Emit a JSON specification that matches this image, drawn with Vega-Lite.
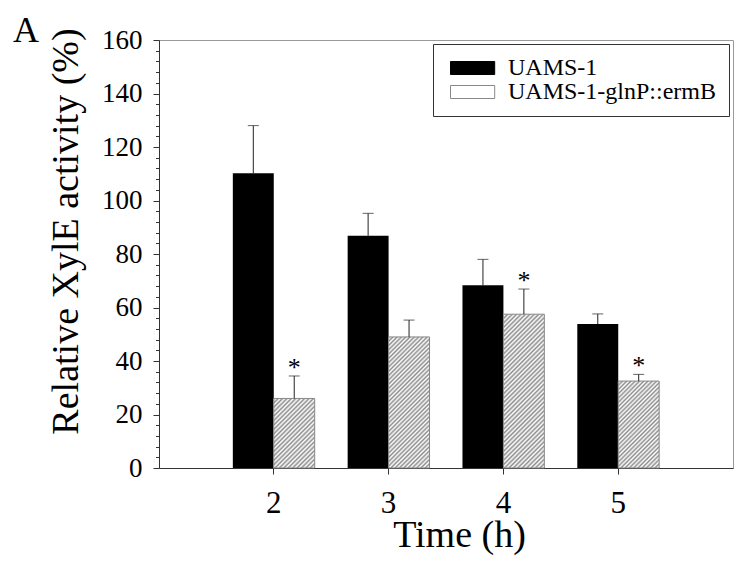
{
  "$schema": "https://vega.github.io/schema/vega-lite/v6.json",
  "width": 574,
  "height": 428,
  "autosize": "none",
  "padding": {"left": 159, "top": 40, "right": 3, "bottom": 94},
  "config": {
    "font": "Liberation Serif",
    "view": {"stroke": "#9a9a9a", "strokeWidth": 1},
    "axis": {"grid": false, "domainColor": "#333", "tickColor": "#333", "labelColor": "black", "titleColor": "black", "titleFontWeight": "normal", "labelFont": "Liberation Serif", "titleFont": "Liberation Serif"}
  },
  "title": {"text": "A", "anchor": "start", "frame": "group", "fontSize": 36, "fontWeight": "normal", "font": "Liberation Serif", "color": "black", "dx": -146, "dy": 52, "baseline": "alphabetic", "offset": 0},
  "data": {
    "values": [
      {"time": 2, "strain": "UAMS-1", "activity": 110.2, "upper": 128.0, "sig": ""},
      {"time": 2, "strain": "UAMS-1-glnP::ermB", "activity": 26.0, "upper": 34.4, "sig": "*"},
      {"time": 3, "strain": "UAMS-1", "activity": 86.8, "upper": 95.2, "sig": ""},
      {"time": 3, "strain": "UAMS-1-glnP::ermB", "activity": 49.0, "upper": 55.3, "sig": ""},
      {"time": 4, "strain": "UAMS-1", "activity": 68.3, "upper": 78.0, "sig": ""},
      {"time": 4, "strain": "UAMS-1-glnP::ermB", "activity": 57.5, "upper": 66.9, "sig": "*"},
      {"time": 5, "strain": "UAMS-1", "activity": 53.8, "upper": 57.6, "sig": ""},
      {"time": 5, "strain": "UAMS-1-glnP::ermB", "activity": 32.5, "upper": 35.0, "sig": "*"}
    ]
  },
  "encoding": {
    "x": {
      "field": "time", "type": "ordinal",
      "scale": {"paddingInner": 0.287, "paddingOuter": 0.643},
      "axis": {"title": "Time (h)", "labelAngle": 0, "labelFontSize": 31, "labelPadding": 14, "tickSize": 6, "titleFontSize": 38, "titleX": 300, "titleY": 78, "titleBaseline": "alphabetic"}
    },
    "xOffset": {"field": "strain", "type": "nominal", "sort": ["UAMS-1", "UAMS-1-glnP::ermB"]}
  },
  "resolve": {"axis": {"y": "independent"}},
  "layer": [
    {
      "mark": {"type": "bar"},
      "encoding": {
        "y": {
          "field": "activity", "type": "quantitative", "title": "Relative XylE activity (%)",
          "scale": {"domain": [0, 160], "nice": false},
          "axis": {
            "orient": "left",
            "values": [0, 20, 40, 60, 80, 100, 120, 140, 160],
            "labelOverlap": false, "labelFontSize": 27, "labelPadding": 11, "tickSize": 6,
            "titleFontSize": 38, "titleX": -82, "titleY": 191, "titleBaseline": "alphabetic"
          }
        },
        "fill": {
          "field": "strain", "type": "nominal",
          "scale": {"domain": ["UAMS-1", "UAMS-1-glnP::ermB"], "range": ["black", "white"]},
          "legend": {
            "title": null, "orient": "top-right", "offset": 4, "padding": 12,
            "strokeColor": "#333", "fillColor": "white",
            "labelFont": "Liberation Serif", "labelFontSize": 24, "labelColor": "black", "labelLimit": 400, "labelOffset": 39,
            "symbolType": "M-1,-1H5.8V1H-1Z", "symbolSize": 169, "rowPadding": 0,
            "encode": {
              "symbols": {
                "update": {
                  "stroke": {"signal": "datum.value === 'UAMS-1' ? 'black' : '#888'"},
                  "strokeWidth": {"value": 1},
                  "fill": {"signal": "datum.value === 'UAMS-1' ? 'black' : {gradient: 'linear', x1: 0, y1: 0, x2: 1.1914, y2: 0.352, stops: [{offset: 0, color: '#8c8c8c'}, {offset: 0.03846, color: '#fff'}, {offset: 0.07692, color: '#8c8c8c'}, {offset: 0.11538, color: '#fff'}, {offset: 0.15385, color: '#8c8c8c'}, {offset: 0.19231, color: '#fff'}, {offset: 0.23077, color: '#8c8c8c'}, {offset: 0.26923, color: '#fff'}, {offset: 0.30769, color: '#8c8c8c'}, {offset: 0.34615, color: '#fff'}, {offset: 0.38462, color: '#8c8c8c'}, {offset: 0.42308, color: '#fff'}, {offset: 0.46154, color: '#8c8c8c'}, {offset: 0.5, color: '#fff'}, {offset: 0.53846, color: '#8c8c8c'}, {offset: 0.57692, color: '#fff'}, {offset: 0.61538, color: '#8c8c8c'}, {offset: 0.65385, color: '#fff'}, {offset: 0.69231, color: '#8c8c8c'}, {offset: 0.73077, color: '#fff'}, {offset: 0.76923, color: '#8c8c8c'}, {offset: 0.80769, color: '#fff'}, {offset: 0.84615, color: '#8c8c8c'}, {offset: 0.88462, color: '#fff'}, {offset: 0.92308, color: '#8c8c8c'}, {offset: 0.96154, color: '#fff'}, {offset: 1, color: '#8c8c8c'}]}"}
                }
              }
            }
          }
        }
      }
    },
    {
      "transform": [{"filter": "datum.strain !== 'UAMS-1'"}],
      "mark": {"type": "bar", "stroke": "#888", "strokeWidth": 1},
      "encoding": {
        "y": {
          "field": "activity", "type": "quantitative",
          "axis": {
            "orient": "left", "title": null, "labels": false, "domain": false, "tickSize": 3.5,
            "values": [4, 8, 12, 16, 24, 28, 32, 36, 44, 48, 52, 56, 64, 68, 72, 76, 84, 88, 92, 96, 104, 108, 112, 116, 124, 128, 132, 136, 144, 148, 152, 156]
          }
        },
        "fill": {
          "condition": [
            {"test": "datum.time === 2", "value": {"gradient": "linear", "x1": 0, "y1": 0, "x2": 0.6954, "y2": 1.1796, "stops": [
              {"offset": 0, "color": "#8c8c8c"}, {"offset": 0.02, "color": "#fff"}, {"offset": 0.04, "color": "#8c8c8c"}, {"offset": 0.06, "color": "#fff"}, {"offset": 0.08, "color": "#8c8c8c"}, {"offset": 0.1, "color": "#fff"}, {"offset": 0.12, "color": "#8c8c8c"}, {"offset": 0.14, "color": "#fff"}, {"offset": 0.16, "color": "#8c8c8c"}, {"offset": 0.18, "color": "#fff"}, {"offset": 0.2, "color": "#8c8c8c"}, {"offset": 0.22, "color": "#fff"}, {"offset": 0.24, "color": "#8c8c8c"}, {"offset": 0.26, "color": "#fff"}, {"offset": 0.28, "color": "#8c8c8c"}, {"offset": 0.3, "color": "#fff"}, {"offset": 0.32, "color": "#8c8c8c"}, {"offset": 0.34, "color": "#fff"}, {"offset": 0.36, "color": "#8c8c8c"}, {"offset": 0.38, "color": "#fff"}, {"offset": 0.4, "color": "#8c8c8c"}, {"offset": 0.42, "color": "#fff"}, {"offset": 0.44, "color": "#8c8c8c"}, {"offset": 0.46, "color": "#fff"}, {"offset": 0.48, "color": "#8c8c8c"}, {"offset": 0.5, "color": "#fff"}, {"offset": 0.52, "color": "#8c8c8c"}, {"offset": 0.54, "color": "#fff"}, {"offset": 0.56, "color": "#8c8c8c"}, {"offset": 0.58, "color": "#fff"}, {"offset": 0.6, "color": "#8c8c8c"}, {"offset": 0.62, "color": "#fff"}, {"offset": 0.64, "color": "#8c8c8c"}, {"offset": 0.66, "color": "#fff"}, {"offset": 0.68, "color": "#8c8c8c"}, {"offset": 0.7, "color": "#fff"}, {"offset": 0.72, "color": "#8c8c8c"}, {"offset": 0.74, "color": "#fff"}, {"offset": 0.76, "color": "#8c8c8c"}, {"offset": 0.78, "color": "#fff"}, {"offset": 0.8, "color": "#8c8c8c"}, {"offset": 0.82, "color": "#fff"}, {"offset": 0.84, "color": "#8c8c8c"}, {"offset": 0.86, "color": "#fff"}, {"offset": 0.88, "color": "#8c8c8c"}, {"offset": 0.9, "color": "#fff"}, {"offset": 0.92, "color": "#8c8c8c"}, {"offset": 0.94, "color": "#fff"}, {"offset": 0.96, "color": "#8c8c8c"}, {"offset": 0.98, "color": "#fff"}, {"offset": 1, "color": "#8c8c8c"}]}},
            {"test": "datum.time === 3", "value": {"gradient": "linear", "x1": 0, "y1": 0, "x2": 0.374, "y2": 1.1958, "stops": [
              {"offset": 0, "color": "#8c8c8c"}, {"offset": 0.0125, "color": "#fff"}, {"offset": 0.025, "color": "#8c8c8c"}, {"offset": 0.0375, "color": "#fff"}, {"offset": 0.05, "color": "#8c8c8c"}, {"offset": 0.0625, "color": "#fff"}, {"offset": 0.075, "color": "#8c8c8c"}, {"offset": 0.0875, "color": "#fff"}, {"offset": 0.1, "color": "#8c8c8c"}, {"offset": 0.1125, "color": "#fff"}, {"offset": 0.125, "color": "#8c8c8c"}, {"offset": 0.1375, "color": "#fff"}, {"offset": 0.15, "color": "#8c8c8c"}, {"offset": 0.1625, "color": "#fff"}, {"offset": 0.175, "color": "#8c8c8c"}, {"offset": 0.1875, "color": "#fff"}, {"offset": 0.2, "color": "#8c8c8c"}, {"offset": 0.2125, "color": "#fff"}, {"offset": 0.225, "color": "#8c8c8c"}, {"offset": 0.2375, "color": "#fff"}, {"offset": 0.25, "color": "#8c8c8c"}, {"offset": 0.2625, "color": "#fff"}, {"offset": 0.275, "color": "#8c8c8c"}, {"offset": 0.2875, "color": "#fff"}, {"offset": 0.3, "color": "#8c8c8c"}, {"offset": 0.3125, "color": "#fff"}, {"offset": 0.325, "color": "#8c8c8c"}, {"offset": 0.3375, "color": "#fff"}, {"offset": 0.35, "color": "#8c8c8c"}, {"offset": 0.3625, "color": "#fff"}, {"offset": 0.375, "color": "#8c8c8c"}, {"offset": 0.3875, "color": "#fff"}, {"offset": 0.4, "color": "#8c8c8c"}, {"offset": 0.4125, "color": "#fff"}, {"offset": 0.425, "color": "#8c8c8c"}, {"offset": 0.4375, "color": "#fff"}, {"offset": 0.45, "color": "#8c8c8c"}, {"offset": 0.4625, "color": "#fff"}, {"offset": 0.475, "color": "#8c8c8c"}, {"offset": 0.4875, "color": "#fff"}, {"offset": 0.5, "color": "#8c8c8c"}, {"offset": 0.5125, "color": "#fff"}, {"offset": 0.525, "color": "#8c8c8c"}, {"offset": 0.5375, "color": "#fff"}, {"offset": 0.55, "color": "#8c8c8c"}, {"offset": 0.5625, "color": "#fff"}, {"offset": 0.575, "color": "#8c8c8c"}, {"offset": 0.5875, "color": "#fff"}, {"offset": 0.6, "color": "#8c8c8c"}, {"offset": 0.6125, "color": "#fff"}, {"offset": 0.625, "color": "#8c8c8c"}, {"offset": 0.6375, "color": "#fff"}, {"offset": 0.65, "color": "#8c8c8c"}, {"offset": 0.6625, "color": "#fff"}, {"offset": 0.675, "color": "#8c8c8c"}, {"offset": 0.6875, "color": "#fff"}, {"offset": 0.7, "color": "#8c8c8c"}, {"offset": 0.7125, "color": "#fff"}, {"offset": 0.725, "color": "#8c8c8c"}, {"offset": 0.7375, "color": "#fff"}, {"offset": 0.75, "color": "#8c8c8c"}, {"offset": 0.7625, "color": "#fff"}, {"offset": 0.775, "color": "#8c8c8c"}, {"offset": 0.7875, "color": "#fff"}, {"offset": 0.8, "color": "#8c8c8c"}, {"offset": 0.8125, "color": "#fff"}, {"offset": 0.825, "color": "#8c8c8c"}, {"offset": 0.8375, "color": "#fff"}, {"offset": 0.85, "color": "#8c8c8c"}, {"offset": 0.8625, "color": "#fff"}, {"offset": 0.875, "color": "#8c8c8c"}, {"offset": 0.8875, "color": "#fff"}, {"offset": 0.9, "color": "#8c8c8c"}, {"offset": 0.9125, "color": "#fff"}, {"offset": 0.925, "color": "#8c8c8c"}, {"offset": 0.9375, "color": "#fff"}, {"offset": 0.95, "color": "#8c8c8c"}, {"offset": 0.9625, "color": "#fff"}, {"offset": 0.975, "color": "#8c8c8c"}, {"offset": 0.9875, "color": "#fff"}, {"offset": 1, "color": "#8c8c8c"}]}},
            {"test": "datum.time === 4", "value": {"gradient": "linear", "x1": 0, "y1": 0, "x2": 0.3152, "y2": 1.1825, "stops": [
              {"offset": 0, "color": "#8c8c8c"}, {"offset": 0.01136, "color": "#fff"}, {"offset": 0.02273, "color": "#8c8c8c"}, {"offset": 0.03409, "color": "#fff"}, {"offset": 0.04545, "color": "#8c8c8c"}, {"offset": 0.05682, "color": "#fff"}, {"offset": 0.06818, "color": "#8c8c8c"}, {"offset": 0.07955, "color": "#fff"}, {"offset": 0.09091, "color": "#8c8c8c"}, {"offset": 0.10227, "color": "#fff"}, {"offset": 0.11364, "color": "#8c8c8c"}, {"offset": 0.125, "color": "#fff"}, {"offset": 0.13636, "color": "#8c8c8c"}, {"offset": 0.14773, "color": "#fff"}, {"offset": 0.15909, "color": "#8c8c8c"}, {"offset": 0.17045, "color": "#fff"}, {"offset": 0.18182, "color": "#8c8c8c"}, {"offset": 0.19318, "color": "#fff"}, {"offset": 0.20455, "color": "#8c8c8c"}, {"offset": 0.21591, "color": "#fff"}, {"offset": 0.22727, "color": "#8c8c8c"}, {"offset": 0.23864, "color": "#fff"}, {"offset": 0.25, "color": "#8c8c8c"}, {"offset": 0.26136, "color": "#fff"}, {"offset": 0.27273, "color": "#8c8c8c"}, {"offset": 0.28409, "color": "#fff"}, {"offset": 0.29545, "color": "#8c8c8c"}, {"offset": 0.30682, "color": "#fff"}, {"offset": 0.31818, "color": "#8c8c8c"}, {"offset": 0.32955, "color": "#fff"}, {"offset": 0.34091, "color": "#8c8c8c"}, {"offset": 0.35227, "color": "#fff"}, {"offset": 0.36364, "color": "#8c8c8c"}, {"offset": 0.375, "color": "#fff"}, {"offset": 0.38636, "color": "#8c8c8c"}, {"offset": 0.39773, "color": "#fff"}, {"offset": 0.40909, "color": "#8c8c8c"}, {"offset": 0.42045, "color": "#fff"}, {"offset": 0.43182, "color": "#8c8c8c"}, {"offset": 0.44318, "color": "#fff"}, {"offset": 0.45455, "color": "#8c8c8c"}, {"offset": 0.46591, "color": "#fff"}, {"offset": 0.47727, "color": "#8c8c8c"}, {"offset": 0.48864, "color": "#fff"}, {"offset": 0.5, "color": "#8c8c8c"}, {"offset": 0.51136, "color": "#fff"}, {"offset": 0.52273, "color": "#8c8c8c"}, {"offset": 0.53409, "color": "#fff"}, {"offset": 0.54545, "color": "#8c8c8c"}, {"offset": 0.55682, "color": "#fff"}, {"offset": 0.56818, "color": "#8c8c8c"}, {"offset": 0.57955, "color": "#fff"}, {"offset": 0.59091, "color": "#8c8c8c"}, {"offset": 0.60227, "color": "#fff"}, {"offset": 0.61364, "color": "#8c8c8c"}, {"offset": 0.625, "color": "#fff"}, {"offset": 0.63636, "color": "#8c8c8c"}, {"offset": 0.64773, "color": "#fff"}, {"offset": 0.65909, "color": "#8c8c8c"}, {"offset": 0.67045, "color": "#fff"}, {"offset": 0.68182, "color": "#8c8c8c"}, {"offset": 0.69318, "color": "#fff"}, {"offset": 0.70455, "color": "#8c8c8c"}, {"offset": 0.71591, "color": "#fff"}, {"offset": 0.72727, "color": "#8c8c8c"}, {"offset": 0.73864, "color": "#fff"}, {"offset": 0.75, "color": "#8c8c8c"}, {"offset": 0.76136, "color": "#fff"}, {"offset": 0.77273, "color": "#8c8c8c"}, {"offset": 0.78409, "color": "#fff"}, {"offset": 0.79545, "color": "#8c8c8c"}, {"offset": 0.80682, "color": "#fff"}, {"offset": 0.81818, "color": "#8c8c8c"}, {"offset": 0.82955, "color": "#fff"}, {"offset": 0.84091, "color": "#8c8c8c"}, {"offset": 0.85227, "color": "#fff"}, {"offset": 0.86364, "color": "#8c8c8c"}, {"offset": 0.875, "color": "#fff"}, {"offset": 0.88636, "color": "#8c8c8c"}, {"offset": 0.89773, "color": "#fff"}, {"offset": 0.90909, "color": "#8c8c8c"}, {"offset": 0.92045, "color": "#fff"}, {"offset": 0.93182, "color": "#8c8c8c"}, {"offset": 0.94318, "color": "#fff"}, {"offset": 0.95455, "color": "#8c8c8c"}, {"offset": 0.96591, "color": "#fff"}, {"offset": 0.97727, "color": "#8c8c8c"}, {"offset": 0.98864, "color": "#fff"}, {"offset": 1, "color": "#8c8c8c"}]}},
            {"test": "datum.time === 5", "value": {"gradient": "linear", "x1": 0, "y1": 0, "x2": 0.5678, "y2": 1.2039, "stops": [
              {"offset": 0, "color": "#8c8c8c"}, {"offset": 0.01667, "color": "#fff"}, {"offset": 0.03333, "color": "#8c8c8c"}, {"offset": 0.05, "color": "#fff"}, {"offset": 0.06667, "color": "#8c8c8c"}, {"offset": 0.08333, "color": "#fff"}, {"offset": 0.1, "color": "#8c8c8c"}, {"offset": 0.11667, "color": "#fff"}, {"offset": 0.13333, "color": "#8c8c8c"}, {"offset": 0.15, "color": "#fff"}, {"offset": 0.16667, "color": "#8c8c8c"}, {"offset": 0.18333, "color": "#fff"}, {"offset": 0.2, "color": "#8c8c8c"}, {"offset": 0.21667, "color": "#fff"}, {"offset": 0.23333, "color": "#8c8c8c"}, {"offset": 0.25, "color": "#fff"}, {"offset": 0.26667, "color": "#8c8c8c"}, {"offset": 0.28333, "color": "#fff"}, {"offset": 0.3, "color": "#8c8c8c"}, {"offset": 0.31667, "color": "#fff"}, {"offset": 0.33333, "color": "#8c8c8c"}, {"offset": 0.35, "color": "#fff"}, {"offset": 0.36667, "color": "#8c8c8c"}, {"offset": 0.38333, "color": "#fff"}, {"offset": 0.4, "color": "#8c8c8c"}, {"offset": 0.41667, "color": "#fff"}, {"offset": 0.43333, "color": "#8c8c8c"}, {"offset": 0.45, "color": "#fff"}, {"offset": 0.46667, "color": "#8c8c8c"}, {"offset": 0.48333, "color": "#fff"}, {"offset": 0.5, "color": "#8c8c8c"}, {"offset": 0.51667, "color": "#fff"}, {"offset": 0.53333, "color": "#8c8c8c"}, {"offset": 0.55, "color": "#fff"}, {"offset": 0.56667, "color": "#8c8c8c"}, {"offset": 0.58333, "color": "#fff"}, {"offset": 0.6, "color": "#8c8c8c"}, {"offset": 0.61667, "color": "#fff"}, {"offset": 0.63333, "color": "#8c8c8c"}, {"offset": 0.65, "color": "#fff"}, {"offset": 0.66667, "color": "#8c8c8c"}, {"offset": 0.68333, "color": "#fff"}, {"offset": 0.7, "color": "#8c8c8c"}, {"offset": 0.71667, "color": "#fff"}, {"offset": 0.73333, "color": "#8c8c8c"}, {"offset": 0.75, "color": "#fff"}, {"offset": 0.76667, "color": "#8c8c8c"}, {"offset": 0.78333, "color": "#fff"}, {"offset": 0.8, "color": "#8c8c8c"}, {"offset": 0.81667, "color": "#fff"}, {"offset": 0.83333, "color": "#8c8c8c"}, {"offset": 0.85, "color": "#fff"}, {"offset": 0.86667, "color": "#8c8c8c"}, {"offset": 0.88333, "color": "#fff"}, {"offset": 0.9, "color": "#8c8c8c"}, {"offset": 0.91667, "color": "#fff"}, {"offset": 0.93333, "color": "#8c8c8c"}, {"offset": 0.95, "color": "#fff"}, {"offset": 0.96667, "color": "#8c8c8c"}, {"offset": 0.98333, "color": "#fff"}, {"offset": 1, "color": "#8c8c8c"}]}}
          ],
          "value": "white"
        }
      }
    },
    {
      "mark": {"type": "rule", "color": "#222", "strokeWidth": 1},
      "encoding": {
        "y": {"field": "activity", "type": "quantitative", "axis": null},
        "y2": {"field": "upper"}
      }
    },
    {
      "mark": {"type": "tick", "color": "#222", "size": 11, "thickness": 1},
      "encoding": {
        "y": {"field": "upper", "type": "quantitative", "axis": null}
      }
    },
    {
      "mark": {"type": "text", "fontSize": 26, "baseline": "alphabetic", "dy": 0, "color": "black", "font": "Liberation Serif"},
      "encoding": {
        "y": {"field": "upper", "type": "quantitative", "axis": null},
        "text": {"field": "sig"}
      }
    }
  ]
}
